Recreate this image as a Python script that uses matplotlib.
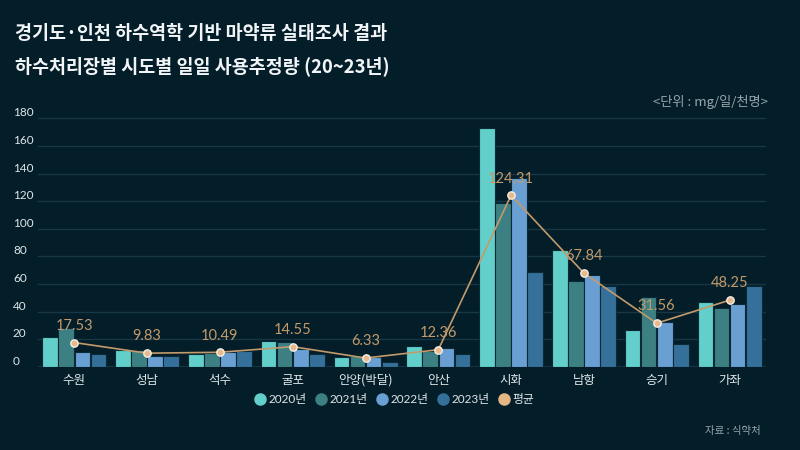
import matplotlib
matplotlib.use('Agg')
import matplotlib.pyplot as plt
from matplotlib.lines import Line2D
import numpy as np

plants = ['수원', '성남', '석수', '굴포', '안양(박달)', '안산', '시화', '남항', '승기', '가좌']
y2020 = [21.2, 12.0, 9.5, 18.4, 7.0, 15.2, 173.0, 84.3, 26.5, 47.0]
y2021 = [28.4, 12.0, 9.8, 18.2, 8.0, 11.2, 119.0, 62.0, 50.5, 42.3]
y2022 = [11.0, 7.7, 11.0, 12.6, 7.0, 13.4, 136.5, 66.8, 32.4, 45.2]
y2023 = [9.6, 7.7, 11.7, 9.0, 3.3, 9.6, 68.7, 58.3, 16.8, 58.5]
avg = [17.53, 9.83, 10.49, 14.55, 6.33, 12.36, 124.31, 67.84, 31.56, 48.25]
years = ['2020년', '2021년', '2022년', '2023년']

bg = '#041e29'
colors = ['#62cfca', '#3d8083', '#6a9fd3', '#35709b']
avg_col = '#c39a6b'
fam = ['Lato', 'Noto Sans CJK KR', 'DejaVu Sans']
kfam = ['Noto Sans CJK KR', 'DejaVu Sans']

fig = plt.figure(figsize=(8, 4.5), dpi=100, facecolor=bg)
ax = fig.add_axes([0.0474, 0.185, 0.91, 0.555], facecolor=bg)

x = np.arange(len(plants))
w = 0.215
for i, vals in enumerate([y2020, y2021, y2022, y2023]):
    ax.bar(x + (i - 1.5) * w * 1.03, vals, width=w, color=colors[i],
           edgecolor='#0b2a36', linewidth=0.8, zorder=2)

ax.plot(x, avg, color=avg_col, linewidth=1.2, zorder=3)
ax.scatter(x, avg, s=28, color='#e8b98a', edgecolors='#f4efe8', linewidths=1.0, zorder=4)
for xi, v in zip(x, avg):
    ax.annotate(f'{v:.2f}', (xi, v), xytext=(0, 7), textcoords='offset points',
                ha='center', va='bottom', color=avg_col, fontsize=10.5, family=fam, zorder=5)

ax.set_xlim(-0.5, len(plants) - 0.5)
ax.set_ylim(0, 181)
ax.set_yticks(range(0, 181, 20))
ax.grid(axis='y', color='#163744', linewidth=1.0, zorder=0)
ax.set_axisbelow(True)
for s in ax.spines.values():
    s.set_visible(False)
ax.axhline(0, color='#17394a', linewidth=1.2, zorder=1)

ax.tick_params(axis='y', length=0, pad=18, labelsize=8.5, labelcolor='#dfe6ea')
for lbl in ax.get_yticklabels():
    lbl.set_ha('left')
    lbl.set_va('bottom')
    lbl.set_family(fam)
ax.set_xticks(x)
ax.set_xticklabels(plants, family=kfam, fontsize=9, color='#dfe6ea')
ax.tick_params(axis='x', length=0, pad=5)

fig.text(0.019, 0.925, '경기도·인천 하수역학 기반 마약류 실태조사 결과', family=kfam,
         fontsize=13.3, fontweight='bold', color='#f2f5f7', va='center')
fig.text(0.019, 0.852, '하수처리장별 시도별 일일 사용추정량 (20~23년)', family=kfam,
         fontsize=13.3, fontweight='bold', color='#f2f5f7', va='center')
fig.text(0.96, 0.773, '<단위 : mg/일/천명>', family=kfam, fontsize=9.5,
         color='#98a6ad', ha='right', va='center')
fig.text(0.951, 0.043, '자료 : 식약처', family=kfam, fontsize=7.5,
         color='#98a6ad', ha='right', va='center')

handles = [Line2D([], [], marker='o', linestyle='none', markersize=8,
                  markerfacecolor=c, markeredgecolor=c) for c in colors]
handles.append(Line2D([], [], marker='o', linestyle='none', markersize=8,
                      markerfacecolor='#e3b684', markeredgecolor='#e3b684'))
leg = fig.legend(handles, years + ['평균'], loc='center', bbox_to_anchor=(0.494, 0.112),
                 ncol=5, frameon=False, handlelength=0.7, handletextpad=0.35,
                 columnspacing=0.9, prop={'family': fam, 'size': 8.5})
for t in leg.get_texts():
    t.set_color('#dfe6ea')

fig.savefig('out.png', dpi=100, facecolor=bg)
